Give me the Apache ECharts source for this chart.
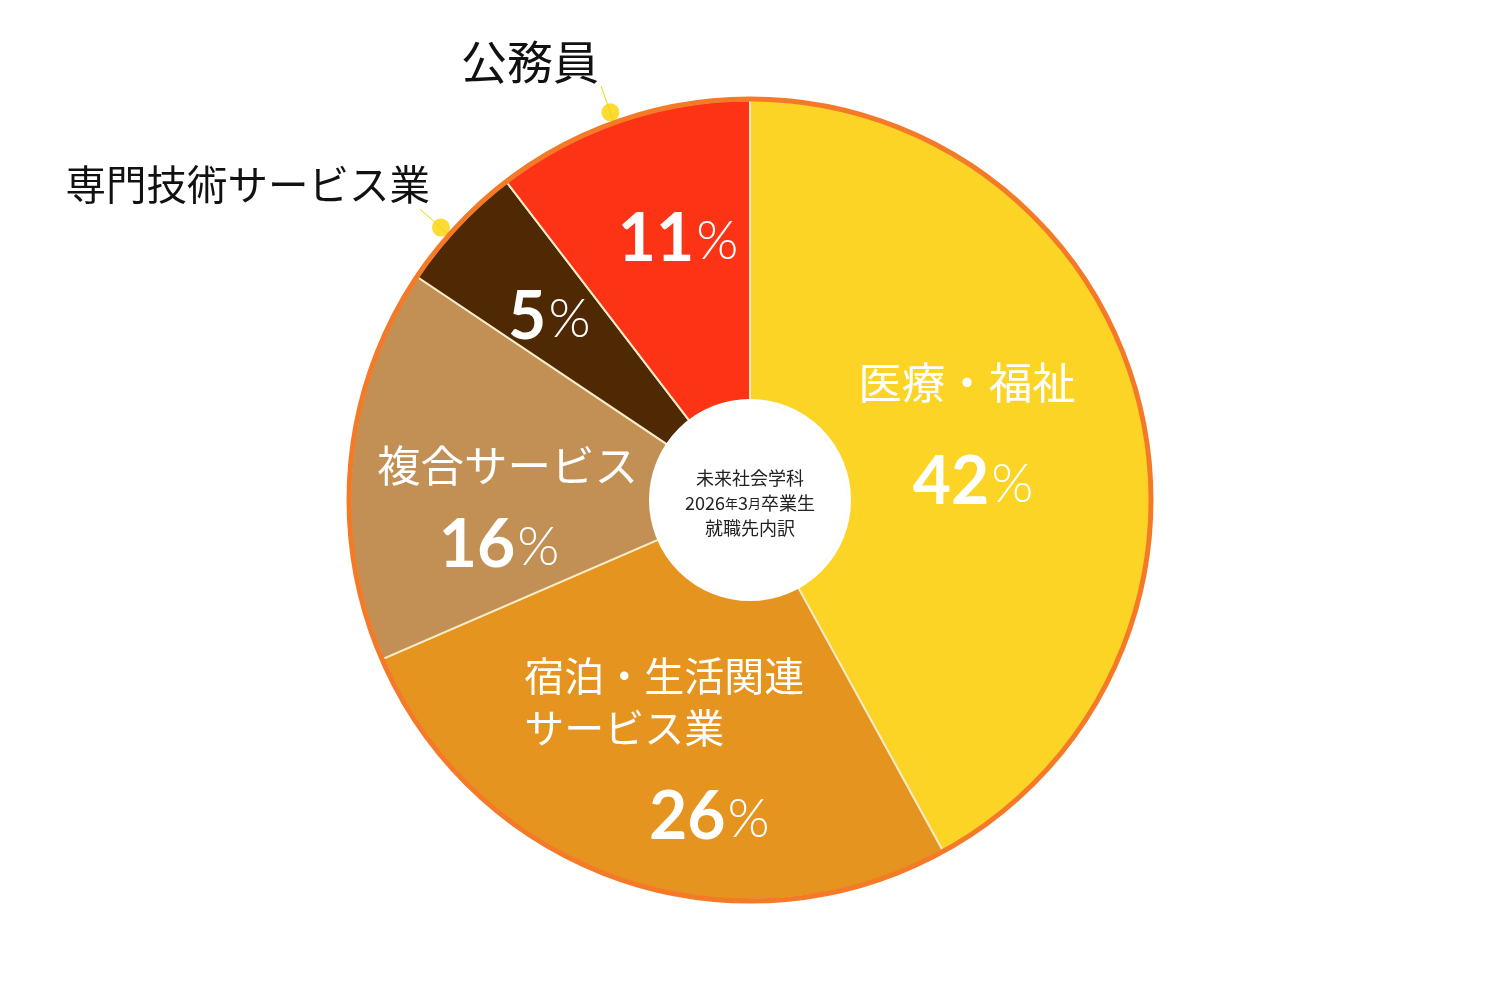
<!DOCTYPE html>
<html><head><meta charset="utf-8">
<script src="https://cdn.jsdelivr.net/npm/echarts@6/dist/echarts.min.js"></script>
<style>html,body{margin:0;padding:0;background:#fff}#c{width:1500px;height:1000px}</style>
</head><body><div id="c"></div>
<script>
// ---- data ----
const categories = ['医療・福祉', '宿泊・生活関連\nサービス業', '複合サービス', '専門技術サービス業', '公務員'];
const values = [42, 26.5, 15.9, 5.2, 10.4];          // slice shares
const pctLabels = [42, 26, 16, 5, 11];                // percentages as printed (also used to place callouts)
const outsideLabelled = [false, false, false, true, true];
const centerLines = ['未来社会学科', '2026年3月卒業生', '就職先内訳'];

// ---- styles ----
const colors = ['#fcd425', '#e4941f', '#c29055', '#4f2804', '#fc3315'];
const pctOffsets = [[-21, 45], [41, 79], [0, 69], [-17, -10], [9, -22]];
const nameOffsets = [[-27, -55], [-148, -38], [9, -19], [0, 0], [0, 0]];
const CENTER = [750, 500];
const DOT_R = 412;

const total = pctLabels.reduce((a, b) => a + b, 0);
let cum = 0;
const dotData = [];
pctLabels.forEach((v, i) => {
  const mid = (cum + v / 2) / total * 100;
  cum += v;
  if (outsideLabelled[i]) dotData.push([DOT_R, mid]);
});

const chart = echarts.init(document.getElementById('c'), null, { renderer: 'canvas' });

const mainData = categories.map((c, i) => ({ name: c, value: values[i], itemStyle: { color: colors[i] } }));
const nameData = categories.map((c, i) => {
  if (outsideLabelled[i]) {
    const big = c === '公務員';
    return {
      name: c, value: pctLabels[i],
      label: {
        show: true, position: 'outside', color: '#111',
        distanceToLabelLine: big ? 2 : -10,
        formatter: '{o|' + c + '}',
        rich: { o: { fontSize: big ? 46 : 40.5, color: '#111', fontFamily: 'Noto Sans CJK JP', padding: [0, 0, 48, 0] } }
      },
      labelLine: { show: true, length: 40, length2: 0, lineStyle: { color: '#f2d400', width: 1 } }
    };
  }
  return { name: c, value: pctLabels[i], label: { show: true, position: 'inside' }, labelLine: { show: false } };
});

const option = {
  backgroundColor: '#fff',
  animation: false,
  title: {
    left: 'center', top: 461,
    text: '{a|' + centerLines[0] + '}\n{a|2026}{s|年}{a|3}{s|月}{a|卒業生}\n{a|' + centerLines[2] + '}',
    textStyle: {
      fontWeight: 'normal',
      rich: {
        a: { fontSize: 18, lineHeight: 25, color: '#222', fontWeight: 'normal', fontFamily: 'Noto Sans CJK JP' },
        s: { fontSize: 13, lineHeight: 25, color: '#222', fontWeight: 'normal', fontFamily: 'Noto Sans CJK JP' }
      }
    }
  },
  polar: [
    { center: CENTER, radius: 401 },
    { center: CENTER, radius: 420 },
    { center: CENTER, radius: 99 }
  ],
  angleAxis: [
    { polarIndex: 0, type: 'value', min: 0, max: 100, z: 10,
      axisLine: { show: true, lineStyle: { color: '#f57a28', width: 5 } },
      axisTick: { show: false }, axisLabel: { show: false }, splitLine: { show: false } },
    { polarIndex: 1, type: 'value', min: 0, max: 100, startAngle: 90, clockwise: true, show: false },
    { polarIndex: 2, type: 'value', min: 0, max: 100, z: 10,
      axisLine: { show: true, lineStyle: { color: '#ffffff', width: 4 } },
      axisTick: { show: false }, axisLabel: { show: false }, splitLine: { show: false } }
  ],
  radiusAxis: [
    { polarIndex: 0, type: 'value', min: 0, max: 1, show: false },
    { polarIndex: 1, type: 'value', min: 0, max: 420, show: false },
    { polarIndex: 2, type: 'value', min: 0, max: 1, show: false }
  ],
  series: [
    {
      type: 'pie', center: CENTER, radius: [98, 400], startAngle: 90, clockwise: true,
      silent: true, z: 2,
      itemStyle: { borderColor: '#f6ebc6', borderWidth: 2 },
      data: mainData,
      label: {
        show: true, position: 'inside',
        formatter: p => '{n|' + pctLabels[p.dataIndex] + '}{p|%}',
        rich: {
          n: { fontSize: 66, fontWeight: 'bold', color: '#fff', fontFamily: 'Lato' },
          p: { fontSize: 54, fontWeight: 300, color: '#fff', fontFamily: 'Lato', padding: [4, 0, 0, 2] }
        }
      },
      labelLine: { show: false },
      labelLayout: params => ({ dx: pctOffsets[params.dataIndex][0], dy: pctOffsets[params.dataIndex][1] })
    },
    {
      type: 'pie', center: CENTER, radius: [98, 400], startAngle: 90, clockwise: true,
      silent: true, z: 3, avoidLabelOverlap: false,
      itemStyle: { color: 'rgba(0,0,0,0)', borderWidth: 0 },
      data: nameData,
      label: { color: '#fff', fontSize: 43.5, lineHeight: 52, fontFamily: 'Noto Sans CJK JP' },
      labelLayout: params => {
        const o = nameOffsets[params.dataIndex];
        if (outsideLabelled[params.dataIndex]) return {};
        const r = { dx: o[0], dy: o[1] };
        if (params.dataIndex === 1) { r.align = 'left'; r.fontSize = 40; }
        return r;
      }
    },
    {
      type: 'scatter', coordinateSystem: 'polar', polarIndex: 1, silent: true, z: 5,
      symbolSize: 18, itemStyle: { color: '#f9d300' },
      data: dotData
    }
  ]
};
chart.setOption(option);
</script>
</body></html>
